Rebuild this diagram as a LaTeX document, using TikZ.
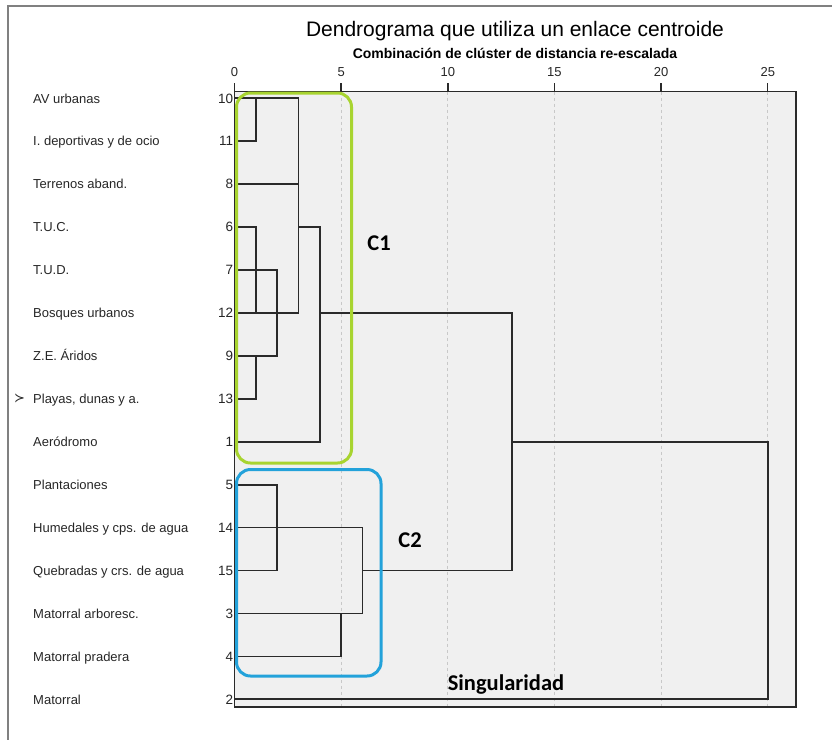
\documentclass[tikz,border=0pt]{standalone}
\usepackage{fontspec}
\setmainfont{Liberation Sans}
\newfontfamily\clusterfont{Carlito}
\newfontfamily\symbfont{DejaVu Sans}
\definecolor{plotbg}{HTML}{F0F0F0}
\definecolor{gridgray}{HTML}{C8C8C8}
\definecolor{linegray}{HTML}{2A2A2A}
\definecolor{framegray}{HTML}{808080}
\definecolor{cgreen}{HTML}{A8D430}
\definecolor{cblue}{HTML}{23A2DA}

\begin{document}
\begin{tikzpicture}[x=1pt,y=-1pt,
  dend/.style={draw=linegray,line width=1.7pt,line cap=rect},
  casetext/.style={anchor=base west,inner sep=0pt,font=\fontsize{13}{15}\selectfont,text=black!85},
  casenum/.style={anchor=base east,inner sep=0pt,font=\fontsize{13.5}{15}\selectfont,text=black!85},
  ticktext/.style={anchor=base,inner sep=0pt,font=\fontsize{13}{15}\selectfont,text=black!85},
  clbox/.style={rounded corners=14pt,line width=3pt},
  cltext/.style={anchor=base,inner sep=0pt,font=\clusterfont\bfseries\fontsize{22.5}{25}\selectfont}]

\useasboundingbox (0,0) rectangle (832,740);

% frame round the output
\draw[framegray,line width=1.5pt] (832,6) -- (8,6) -- (8,740);

\node[anchor=base,inner sep=0pt,font=\fontsize{21}{24}\selectfont] (title) at (515,36) {Dendrograma que utiliza un enlace centroide};
\node[anchor=base,inner sep=0pt,font=\bfseries\fontsize{14}{16}\selectfont] (subtitle) at (515,58.3) {Combinación de clúster de distancia re-escalada};

\begin{scope}[xshift=234.5pt,yshift=-98.3pt,x=21.33pt,y=-42.93pt]

\coordinate (ptop) at (0,-0.154);
\coordinate (pbot) at (26.32,14.18);
\fill[plotbg] (ptop) rectangle (pbot);

% distance grid and ticks
\foreach \d in {5,10,...,25}
  \draw[gridgray,dashed,line width=0.8pt] (\d,-0.154) -- (\d,14.18);
\foreach \d in {0,5,...,25} {
  \draw[linegray,line width=1.4pt] (\d,-0.154) -- (\d,-0.357);
  \node[ticktext] (t\d) at (\d,-0.51) {\d};
}

% cases
\foreach \c/\name [count=\r from 0] in {10/AV urbanas,11/I. deportivas y de ocio,8/Terrenos aband.,6/T.U.C.,7/T.U.D.,12/Bosques urbanos,9/Z.E. Áridos,13/{Playas, dunas y a.},1/Aeródromo,5/Plantaciones,14/Humedales y cps. de agua,15/Quebradas y crs. de agua,3/Matorral arboresc.,4/Matorral pradera,2/Matorral} {
  \coordinate (c\c) at (0,\r);
  \node[casenum] (n\c) at (-0.05,\r+0.11) {\c};
  \node[casetext] (lab\c) at (-9.447,\r+0.11) {\name};
}
\node[inner sep=0pt,font=\symbfont\fontsize{13}{15}\selectfont,text=black!85] (mark) at (-10.08,7) {≻};

% merge points
\coordinate (j1) at (1,0);
\coordinate (j2) at (1,3);
\coordinate (j3) at (1,6);
\coordinate (j4) at (2,4);
\coordinate (j5) at (3,0);
\coordinate (j6) at (4,3);
\coordinate (j7) at (13,5);
\coordinate (j8) at (25,8);
\coordinate (j9) at (2,9);
\coordinate (j10) at (5,12);
\coordinate (j11) at (6,10);

\draw[dend] (c10) -- (j5) -- (j5 |- c12);
\draw[dend] (c11) -| (j1);
\draw[dend] (c8) -- (c8 -| j5);
\draw[dend] (c6) -- (j2) -- (j2 |- c12);
\draw[dend] (c12) -- (c12 -| j5);
\draw[dend] (c7) -- (j4) -- (j4 |- c9);
\draw[dend] (c9) -- (c9 -| j4);
\draw[dend] (c13) -| (j3);
\draw[dend] (j5 |- c6) -- (j6) -- (j6 |- c1);
\draw[dend] (c1) -- (c1 -| j6);
\draw[dend] (j6 |- c12) -- (j7) -- (j7 |- c15);
\draw[dend] (j7 |- c1) -- (j8) -- (j8 |- c2);
\draw[dend] (c2) -- (c2 -| j8);
\draw[dend] (c5) -- (j9) -- (j9 |- c15);
\draw[dend] (c15) -- (c15 -| j9);
\draw[dend] (c14) -- (j11) -- (j11 |- c3);
\draw[dend] (c3) -- (c3 -| j11);
\draw[dend] (j11 |- c15) -- (c15 -| j7);
\draw[dend] (c4) -| (j10);

\draw[linegray,line width=1.6pt] (ptop) rectangle (pbot);
\end{scope}

% clusters
\draw[clbox,cgreen] (236.5,93) rectangle (351.5,463);
\draw[clbox,cblue] (236.5,469.5) rectangle (381,676);
\node[cltext] (cone) at (379,250) {C1};
\node[cltext] (ctwo) at (410,547.3) {C2};
\node[cltext] (sing) at (506,690) {Singularidad};

\end{tikzpicture}
\end{document}
